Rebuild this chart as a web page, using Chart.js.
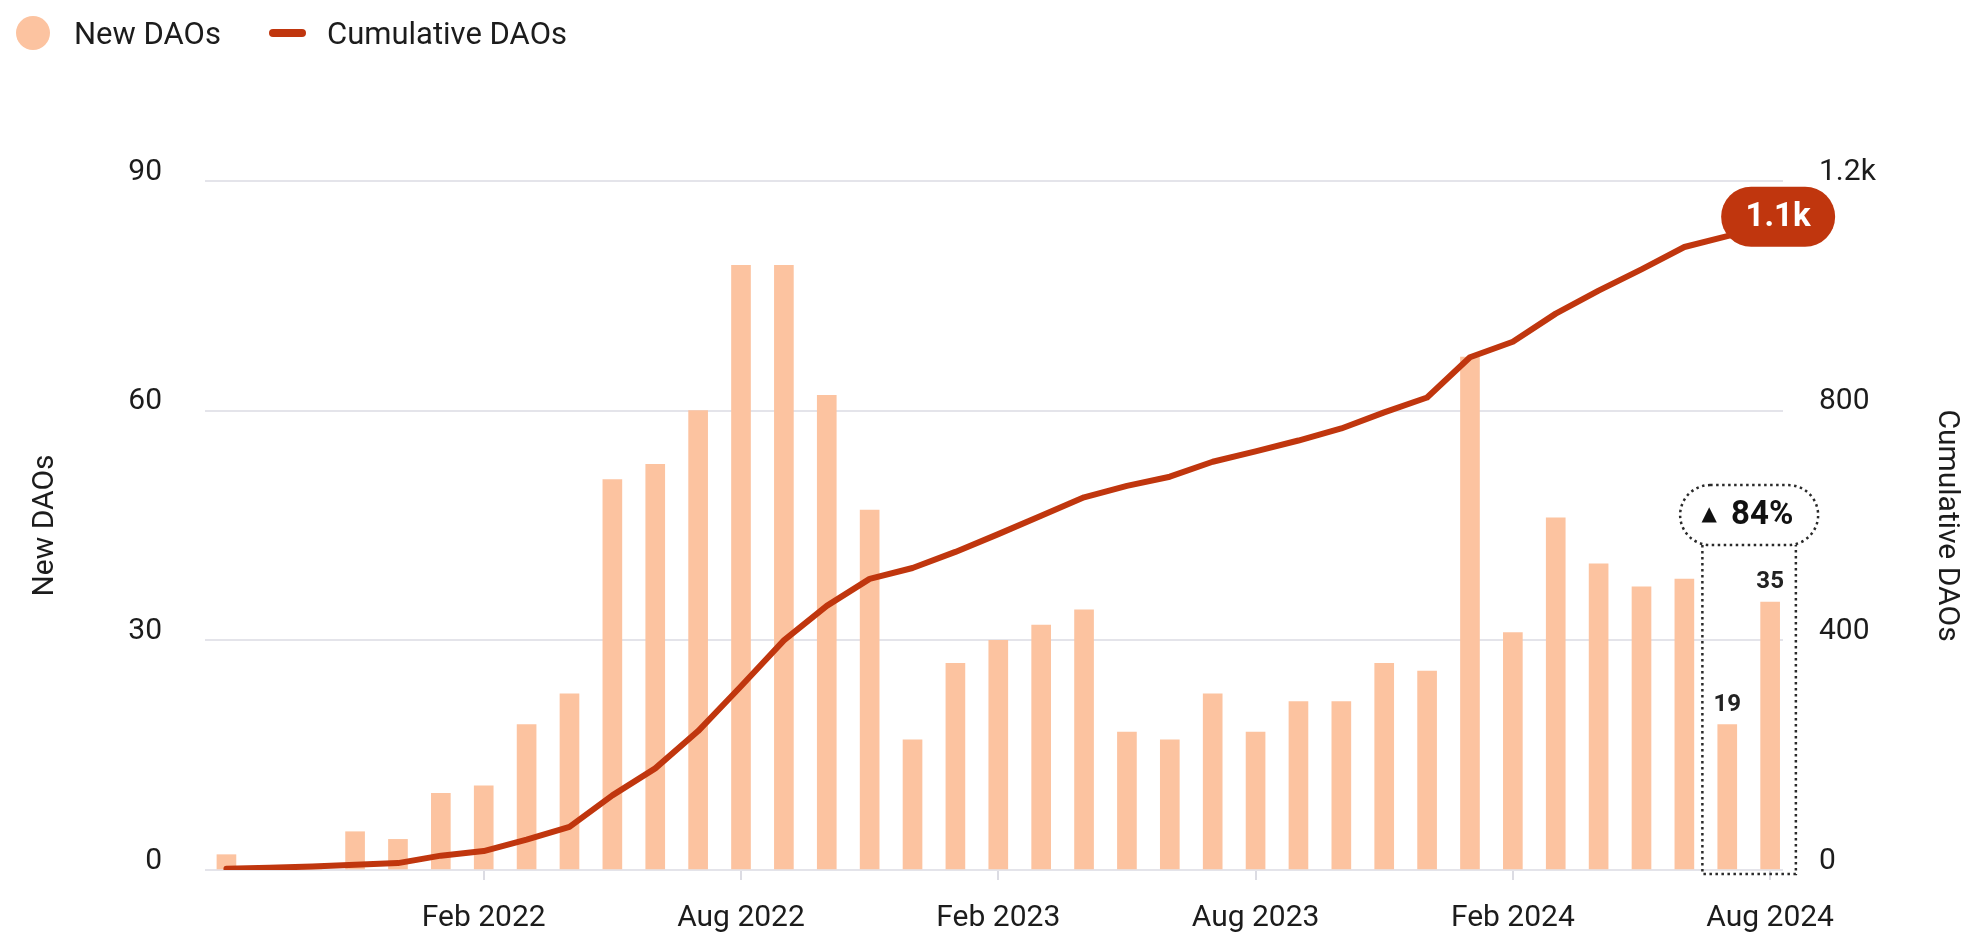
<!DOCTYPE html>
<html>
<head>
<meta charset="utf-8">
<title>New and cumulative DAOs</title>
<script src="https://cdn.jsdelivr.net/npm/chart.js@4.4.1/dist/chart.umd.min.js"></script>
<style>
  html, body { margin: 0; padding: 0; background: #fff; }
  #wrap { position: relative; width: 1968px; height: 933px; overflow: hidden; }
  #daoChart { position: absolute; left: 0; top: 0; }
  .legend-item { position: absolute; top: 0; height: 66px; display: flex; align-items: center;
                 font-family: Roboto, sans-serif; font-size: 31px; color: #1c1c1c; white-space: nowrap; }
  .legend-dot { width: 34px; height: 34px; border-radius: 50%; margin-right: 24px; }
  .legend-line { width: 37px; height: 8px; border-radius: 4px; margin-right: 21px; }
</style>
</head>
<body>
<div id="wrap">
  <canvas id="daoChart" width="1968" height="933"></canvas>
  <div id="legend"></div>
</div>
<script>
const months = [
  'Aug 2021', 'Sep 2021', 'Oct 2021', 'Nov 2021', 'Dec 2021',
  'Jan 2022', 'Feb 2022', 'Mar 2022', 'Apr 2022', 'May 2022', 'Jun 2022', 'Jul 2022',
  'Aug 2022', 'Sep 2022', 'Oct 2022', 'Nov 2022', 'Dec 2022',
  'Jan 2023', 'Feb 2023', 'Mar 2023', 'Apr 2023', 'May 2023', 'Jun 2023', 'Jul 2023',
  'Aug 2023', 'Sep 2023', 'Oct 2023', 'Nov 2023', 'Dec 2023',
  'Jan 2024', 'Feb 2024', 'Mar 2024', 'Apr 2024', 'May 2024', 'Jun 2024', 'Jul 2024',
  'Aug 2024'
];
const newDaos = [
  2, 0, 0, 5, 4,
  10, 11, 19, 23, 51, 53, 60,
  79, 79, 62, 47, 17,
  27, 30, 32, 34, 18, 17, 23,
  18, 22, 22, 27, 26,
  67, 31, 46, 40, 37, 38, 19,
  35
];
const cumulativeDaos = [
  2, 4, 6, 9, 12,
  25, 33, 53, 75, 130, 177, 242,
  320, 400, 460, 507, 526,
  554, 585, 617, 649, 669, 685, 711,
  729, 748, 769, 797, 823,
  893, 920, 969, 1009, 1046, 1085, 1104,
  1122
];
const monthTicks = ['Feb 2022', 'Aug 2022', 'Feb 2023', 'Aug 2023', 'Feb 2024', 'Aug 2024'];
const newTicks = [0, 30, 60, 90];
const cumulativeTicks = [0, 400, 800, 1200];

const barColor = '#fcc3a0';
const lineColor = '#c0360e';
const textColor = '#1c1c1c';
const tickFont = { family: 'Roboto', size: 30 };

function kFormat(v) {
  return v >= 1000 ? (v / 1000).toFixed(1).replace(/\.0$/, '') + 'k' : String(v);
}

function pill(ctx, x, y, w, h) {
  const r = h / 2;
  ctx.beginPath();
  ctx.moveTo(x + r, y);
  ctx.lineTo(x + w - r, y);
  ctx.arc(x + w - r, y + r, r, -Math.PI / 2, Math.PI / 2);
  ctx.lineTo(x + r, y + h);
  ctx.arc(x + r, y + r, r, Math.PI / 2, Math.PI * 1.5);
  ctx.closePath();
}

// last two months framed, with growth badge; end label on the cumulative line
const highlightPlugin = {
  id: 'highlight',
  afterDatasetsDraw(chart) {
    const { ctx, chartArea, scales: { x } } = chart;
    const bars = chart.getDatasetMeta(0).data;
    const points = chart.getDatasetMeta(1).data;
    const n = newDaos.length;
    const prev = bars[n - 2];
    const last = bars[n - 1];
    const step = x.getPixelForValue(1) - x.getPixelForValue(0);

    ctx.save();
    ctx.fillStyle = '#222';
    ctx.font = 'bold 24px Roboto';
    ctx.textAlign = 'center';
    ctx.textBaseline = 'middle';
    [n - 2, n - 1].forEach(i => ctx.fillText(String(newDaos[i]), bars[i].x, bars[i].y - 20));

    const left = prev.x - 0.58 * step;
    const right = last.x + 0.6 * step;
    const top = Math.min(prev.y, last.y) - 57;
    const bottom = chartArea.bottom + 4;
    ctx.strokeStyle = '#2a2a2a';
    ctx.lineWidth = 2.5;
    ctx.setLineDash([2.5, 3.5]);
    ctx.beginPath();
    ctx.moveTo(left, top);
    ctx.lineTo(left, bottom);
    ctx.lineTo(right, bottom);
    ctx.lineTo(right, top);
    ctx.stroke();

    const cx = (left + right) / 2;
    const bw = 138, bh = 60;
    pill(ctx, cx - bw / 2, top - bh, bw, bh);
    ctx.fillStyle = '#fff';
    ctx.fill();
    ctx.stroke();
    ctx.setLineDash([]);

    const growth = Math.round((newDaos[n - 1] - newDaos[n - 2]) / newDaos[n - 2] * 100);
    const cy = top - bh / 2;
    ctx.fillStyle = '#111';
    ctx.font = '20px "DejaVu Sans"';
    ctx.fillText('▲', cx - 40, cy);
    ctx.font = 'bold 33px Roboto';
    ctx.textAlign = 'left';
    ctx.fillText(growth + '%', cx - 18, cy + 1);

    const end = points[n - 1];
    const ex = end.x + 8, ey = end.y - 9;
    pill(ctx, ex - 57, ey - 30, 114, 60);
    ctx.fillStyle = lineColor;
    ctx.fill();
    ctx.fillStyle = '#fff';
    ctx.textAlign = 'center';
    ctx.font = 'bold 33px Roboto';
    ctx.fillText(kFormat(cumulativeDaos[n - 1]), ex, ey + 1);
    ctx.restore();
  }
};

const chart = new Chart(document.getElementById('daoChart'), {
  type: 'bar',
  data: {
    datasets: [
      {
        type: 'bar',
        label: 'New DAOs',
        data: newDaos.map((v, i) => ({ x: i, y: v })),
        backgroundColor: barColor,
        barThickness: 19,
        yAxisID: 'y',
        order: 2
      },
      {
        type: 'line',
        label: 'Cumulative DAOs',
        data: cumulativeDaos.map((v, i) => ({ x: i, y: v })),
        borderColor: lineColor,
        backgroundColor: lineColor,
        borderWidth: 6,
        pointRadius: 0,
        tension: 0,
        borderJoinStyle: 'round',
        borderCapStyle: 'round',
        yAxisID: 'y1',
        order: 1
      }
    ]
  },
  options: {
    responsive: false,
    devicePixelRatio: 1,
    animation: false,
    layout: { padding: { top: 181, left: 0, right: 0, bottom: 0 } },
    plugins: {
      legend: { display: false },
      tooltip: { enabled: false }
    },
    scales: {
      x: {
        type: 'linear',
        offset: false,
        min: -0.5,
        max: 36.3,
        grid: { drawOnChartArea: false, drawTicks: true, tickLength: 10, color: '#dcdce3', lineWidth: 2, offset: false },
        border: { display: false },
        ticks: {
          font: tickFont,
          color: textColor,
          padding: 20,
          maxRotation: 0,
          autoSkip: false,
          callback: v => months[v]
        },
        afterBuildTicks: s => { s.ticks = monthTicks.map(m => ({ value: months.indexOf(m) })); },
        afterFit: s => { s.height = 63; }
      },
      y: {
        position: 'left',
        min: 0,
        max: 90,
        grid: { color: '#e4e4ea', lineWidth: 2, drawTicks: false },
        border: { display: false },
        ticks: { font: tickFont, color: textColor, padding: 43, labelOffset: -9 },
        afterBuildTicks: s => { s.ticks = newTicks.map(v => ({ value: v })); },
        title: {
          display: true,
          text: 'New DAOs',
          font: { family: 'Roboto', size: 30 },
          color: textColor,
          padding: { top: 27, bottom: 0 }
        },
        afterFit: s => { s.width = 205; }
      },
      y1: {
        position: 'right',
        min: 0,
        max: 1200,
        grid: { drawOnChartArea: false, drawTicks: false },
        border: { display: false },
        ticks: { font: tickFont, color: textColor, padding: 36, labelOffset: -9, callback: v => kFormat(v) },
        afterBuildTicks: s => { s.ticks = cumulativeTicks.map(v => ({ value: v })); },
        title: {
          display: true,
          text: 'Cumulative DAOs',
          font: { family: 'Roboto', size: 30 },
          color: textColor,
          padding: { top: 4, bottom: 0 }
        },
        afterFit: s => { s.width = 185; }
      }
    }
  },
  plugins: [highlightPlugin]
});

// html legend built from the datasets
const legend = document.getElementById('legend');
const legendLeft = [16, 269];
chart.data.datasets.forEach((ds, i) => {
  const item = document.createElement('div');
  item.className = 'legend-item';
  item.style.left = legendLeft[i] + 'px';
  const mark = document.createElement('span');
  mark.className = ds.type === 'line' ? 'legend-line' : 'legend-dot';
  mark.style.background = ds.type === 'line' ? ds.borderColor : ds.backgroundColor;
  const label = document.createElement('span');
  label.textContent = ds.label;
  item.appendChild(mark);
  item.appendChild(label);
  legend.appendChild(item);
});
</script>
</body>
</html>
